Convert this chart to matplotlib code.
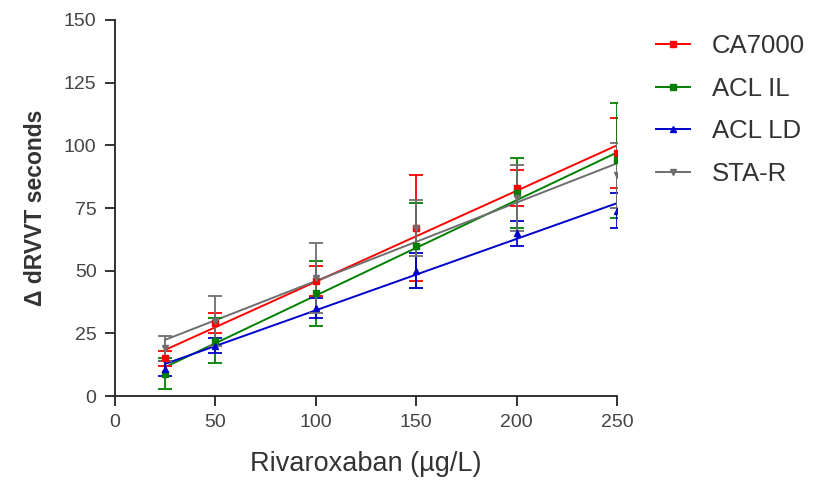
import numpy as np
import matplotlib
matplotlib.use("Agg")
import matplotlib.pyplot as plt

plt.rcParams['font.family'] = ['Liberation Sans', 'DejaVu Sans']

doses = [25, 50, 100, 150, 200, 250]
series_names = ["CA7000", "ACL IL", "ACL LD", "STA-R"]
ca7000_mean = [15, 29, 46, 67, 83, 97]
ca7000_sd = [3, 4, 6, 21, 7, 14]
aclil_mean = [9, 22, 41, 60, 81, 94]
aclil_sd = [6, 9, 13, 17, 14, 23]
aclld_mean = [11, 20, 35, 50, 65, 74]
aclld_sd = [3, 3, 4, 7, 5, 7]
star_mean = [19, 30, 47, 67, 79, 88]
star_sd = [5, 10, 14, 11, 13, 13]

means = [ca7000_mean, aclil_mean, aclld_mean, star_mean]
sds = [ca7000_sd, aclil_sd, aclld_sd, star_sd]
colors = ["#ff0000", "#008000", "#0000cc", "#6e6e6e"]
markers = ["s", "s", "^", "v"]
msizes = [4, 5, 5, 5]

fig = plt.figure(figsize=(8.25, 4.86), dpi=100)
ax = fig.add_axes([0.139, 0.185, 0.609, 0.774])

x = np.array(doses, dtype=float)
handles = []
for name, m, s, c, mk, ms in zip(series_names, means, sds, colors, markers, msizes):
    m = np.array(m, dtype=float)
    ax.errorbar(x, m, yerr=s, fmt=mk, color=c, ms=ms, capsize=5,
                elinewidth=1.3, capthick=1.3, zorder=3)
    k, b = np.polyfit(x, m, 1)
    xf = np.array([x.min(), x.max()])
    ax.plot(xf, k * xf + b, '-', color=c, lw=1.4, zorder=2)
    h, = ax.plot([], [], '-', color=c, marker=mk, ms=ms, lw=1.4)
    handles.append(h)

ax.set_xlim(0, 250)
ax.set_ylim(0, 150)
ax.set_xticks([0, 50, 100, 150, 200, 250])
ax.set_yticks([0, 25, 50, 75, 100, 125, 150])
for sp in ['top', 'right']:
    ax.spines[sp].set_visible(False)
for sp in ['left', 'bottom']:
    ax.spines[sp].set_linewidth(1.3)
    ax.spines[sp].set_color('#222222')
ax.tick_params(axis='both', direction='out', length=7, width=1.3,
               labelsize=14, labelcolor='#444444', color='#222222', pad=6)
ax.set_xlabel("Rivaroxaban (µg/L)", fontsize=19.5, color='#333333', labelpad=14)
ax.set_ylabel("Δ dRVVT seconds", fontsize=16.5, fontweight='bold',
              color='#333333', labelpad=12)

fig.legend(handles, series_names, loc='upper left',
           bbox_to_anchor=(0.779, 0.956), frameon=False, fontsize=18.5,
           handlelength=1.35, handletextpad=0.85, labelspacing=0.72,
           borderpad=0, labelcolor='#333333')

fig.savefig("out.png", dpi=100)
